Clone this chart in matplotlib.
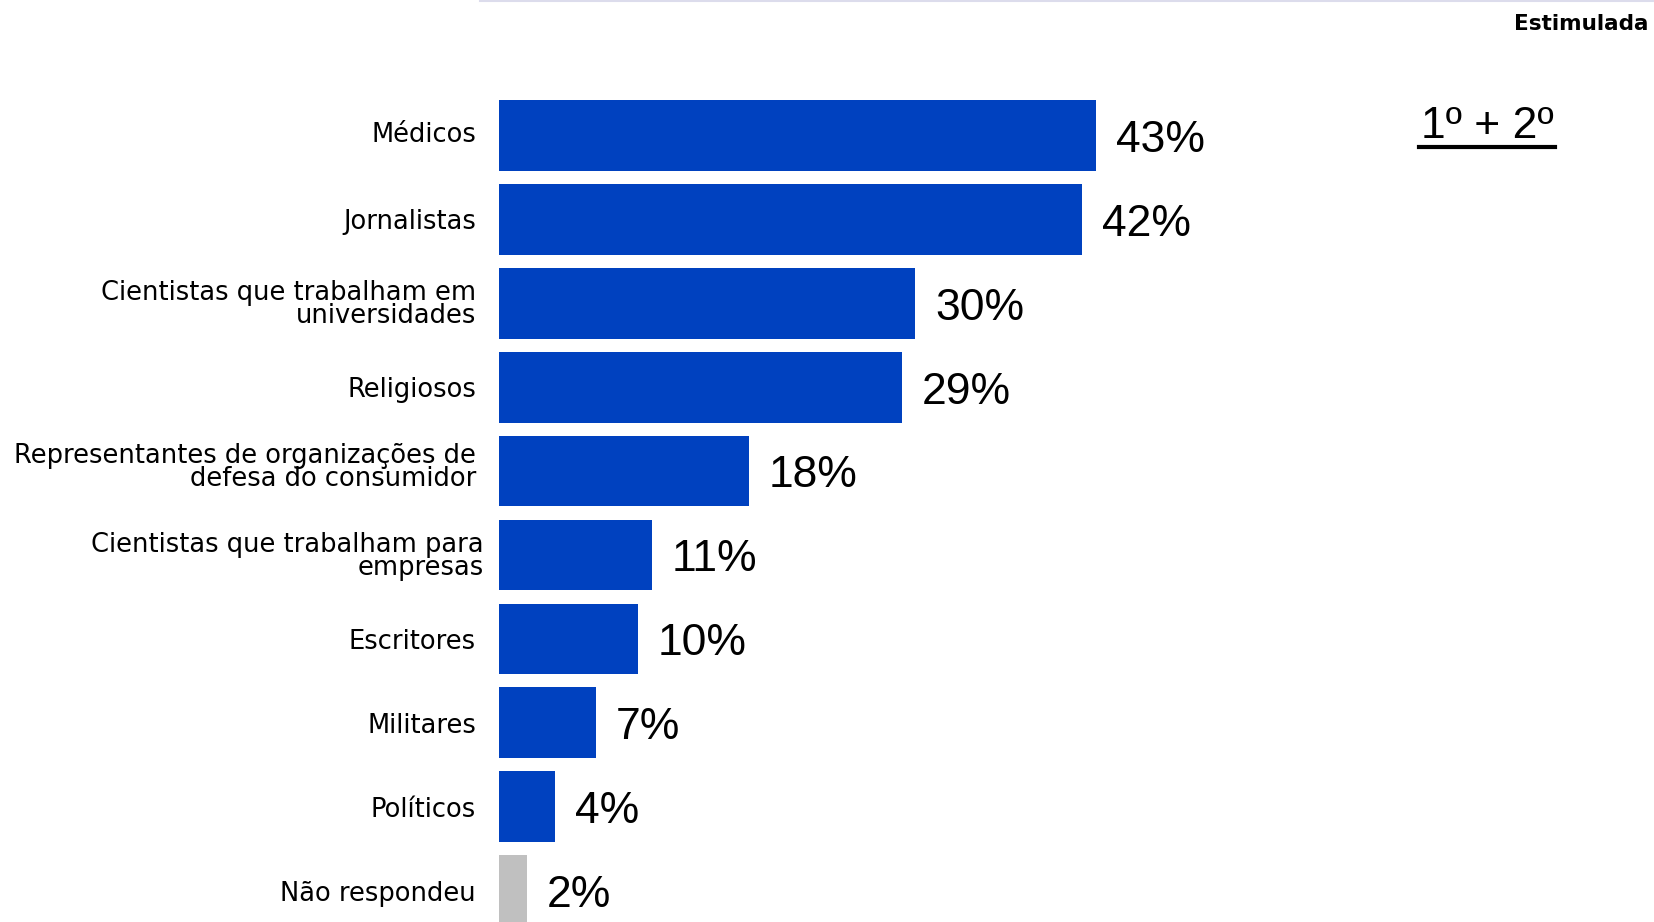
#!/usr/bin/env python3
# Horizontal bar chart: who is trusted to inform (1st + 2nd mention)
import matplotlib.pyplot as plt
import matplotlib.transforms as mtransforms
from matplotlib.lines import Line2D

categories = [
    'Médicos',
    'Jornalistas',
    'Cientistas que trabalham em\nuniversidades',
    'Religiosos',
    'Representantes de organizações de\ndefesa do consumidor',
    'Cientistas que trabalham para\nempresas',
    'Escritores',
    'Militares',
    'Políticos',
    'Não respondeu',
]
values = [43, 42, 30, 29, 18, 11, 10, 7, 4, 2]
value_labels = ['43%', '42%', '30%', '29%', '18%', '11%', '10%', '7%', '4%', '2%']

BLUE = '#0041BF'
GREY = '#C0C0C0'

# small per-label nudges (pixels) to mimic the original layout
nudge = {0: (0, 4), 4: (0, 5), 5: (8, 0)}

if __name__ == "__main__":
    W, H = 1654, 922
    fig = plt.figure(figsize=(W / 100, H / 100), dpi=100)

    # axes placed in pixel terms: bars start at x=499, 13.88 px per %
    left = 499
    ppu = 13.88
    xmax = 80
    ax = fig.add_axes([left / W, 0, xmax * ppu / W, 1])

    step = 83.9
    c0 = 135.5
    ax.set_ylim((H - c0) / step, -c0 / step)
    ax.set_xlim(0, xmax)

    colors = [BLUE] * (len(values) - 1) + [GREY]
    y = list(range(len(values)))
    ax.barh(y, values, height=0.843, color=colors, zorder=2)

    for yi, v, lab in zip(y, values, value_labels):
        ax.annotate(lab, (v, yi), xytext=(14.4, -3.5), textcoords='offset points',
                    ha='left', va='center', fontsize=32,
                    family=['Liberation Sans', 'DejaVu Sans'], color='black')

    ax.set_yticks(y)
    ax.set_yticklabels(categories, fontsize=18.5, family='DejaVu Sans',
                       linespacing=0.85)
    ax.tick_params(axis='y', length=0, pad=16.5)
    for i, t in enumerate(ax.get_yticklabels()):
        if i in nudge:
            dx, dy = nudge[i]
            t.set_transform(t.get_transform() + mtransforms.ScaledTranslation(
                dx / 100, dy / 100, fig.dpi_scale_trans))
    ax.set_xticks([])
    for s in ax.spines.values():
        s.set_visible(False)

    # thin rule across the top
    fig.add_artist(Line2D([480 / W, 1], [1 - 1 / H, 1 - 1 / H],
                          color='#DCDCEC', lw=1.5))

    fig.text(1649 / W, 1 - 24 / H, 'Estimulada', ha='right', va='center',
             fontsize=15.5, fontweight='bold', family='DejaVu Sans')

    fig.text(1487 / W, 1 - 127 / H, '1º + 2º', ha='center', va='center',
             fontsize=32, family=['Liberation Sans', 'DejaVu Sans'])
    fig.add_artist(Line2D([1419 / W, 1555 / W], [1 - 147 / H, 1 - 147 / H],
                          color='black', lw=3))

    fig.savefig('out.png', dpi=100)
